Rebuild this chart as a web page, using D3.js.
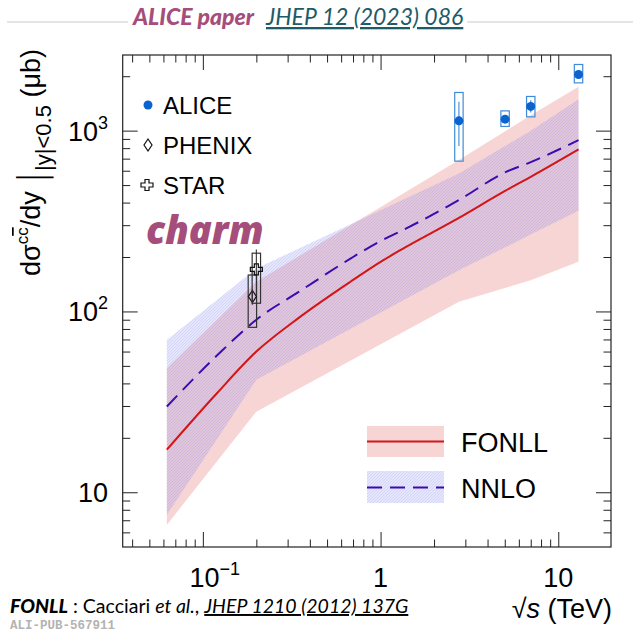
<!DOCTYPE html>
<html>
<head>
<meta charset="utf-8">
<script src="https://cdn.jsdelivr.net/npm/d3@7"></script>
<style>
  html, body { margin: 0; padding: 0; background: #fff; }
  svg { display: block; }
</style>
</head>
<body>
<div id="chart"></div>
<script>
// theory curves (central values, μb)
const sqrtsTheory = [0.0627, 0.12, 0.2, 0.354, 0.677, 1, 1.3, 2.76, 5.02, 7, 13];
const fonllCentral = [17.2, 35.3, 60, 93.6, 146, 188, 219, 329, 464, 555, 787];
const nnloCentral = [29.8, 57, 90, 130, 196, 245, 278, 413, 588, 670, 886];

// theory uncertainty bands
const bandSqrts = [0.0627, 0.2, 2.76, 7, 13];
const fonllLow = [6.6, 27.9, 113, 149, 188];
const fonllHigh = [48.5, 146, 687, 1218, 1746];
const nnloLow = [7.5, 41.9, 169, 266, 360];
const nnloHigh = [69.6, 173, 580, 1000, 1493];

// measurements
const aliceSqrts = [2.76, 5.02, 7, 13];
const aliceValue = [1133, 1157, 1361, 2045];
const aliceStatLow = [823, 1120, 1260, 1995];
const aliceStatHigh = [1443, 1195, 1474, 2095];
const aliceSystLow = [678, 1055, 1192, 1837];
const aliceSystHigh = [1626, 1286, 1545, 2322];

const phenixSqrts = [0.19];
const phenixValue = [121];
const phenixStatLow = [109];
const phenixStatHigh = [133];
const phenixSystLow = [81.7];
const phenixSystHigh = [159];

const starSqrts = [0.2];
const starValue = [171];
const starStatLow = [122];
const starStatHigh = [220];
const starSystLow = [111];
const starSystHigh = [210];

// axis ticks
const xMajorTicks = [0.1, 1, 10];
const xMinorTicks = [0.04, 0.05, 0.06, 0.07, 0.08, 0.09, 0.2, 0.3, 0.4, 0.5, 0.6, 0.7, 0.8, 0.9, 2, 3, 4, 5, 6, 7, 8, 9];
const xTickLabels = [["10", "−1"], ["1", ""], ["10", ""]];
const yMajorTicks = [10, 100, 1000];
const yMinorTicks = [6, 7, 8, 9, 20, 30, 40, 50, 60, 70, 80, 90, 200, 300, 400, 500, 600, 700, 800, 900, 2000];
const yTickLabels = [["10", ""], ["10", "2"], ["10", "3"]];

const width = 635;
const height = 633;
const margin = { top: 55, right: 24, bottom: 86, left: 122.7 };
const helv = "'Liberation Sans', Arial, sans-serif";
const fonllColor = "#d41515";
const nnloColor = "#3a0cae";
const aliceColor = "#0a63cf";
const aliceBoxColor = "#3f8bd9";
const magenta = "#a54d7b";

const svg = d3.select("#chart").append("svg").attr("width", width).attr("height", height);

const x = d3.scaleLog().domain([0.0354, 19.8]).range([margin.left, width - margin.right]);
const y = d3.scaleLog().domain([4.98, 2620]).range([height - margin.bottom, margin.top]);

const defs = svg.append("defs");
const hatch = defs.append("pattern")
  .attr("id", "hatch")
  .attr("patternUnits", "userSpaceOnUse")
  .attr("width", 3)
  .attr("height", 3);
hatch.append("rect").attr("width", 3).attr("height", 3).attr("fill", "#8a8cf0").attr("opacity", 0.22);
hatch.append("path").attr("d", "M-1,1 L1,-1 M0,3 L3,0 M2,4 L4,2").attr("stroke", "#6f72e4").attr("stroke-width", 0.5).attr("opacity", 0.3);

const clip = defs.append("clipPath").attr("id", "plot-clip");
clip.append("rect")
  .attr("x", margin.left).attr("y", margin.top)
  .attr("width", width - margin.left - margin.right)
  .attr("height", height - margin.top - margin.bottom);

// header
svg.append("line").attr("x1", 7).attr("x2", 633).attr("y1", 22).attr("y2", 22).attr("stroke", "#c9c9c9").attr("stroke-width", 1);
const header = svg.append("text").attr("x", 133).attr("y", 25).attr("font-family", "Lato, 'Open Sans', sans-serif").attr("font-size", 23);
header.append("tspan").attr("font-weight", 900).attr("font-style", "italic").attr("fill", magenta).text("ALICE paper");
header.append("tspan").attr("dx", 12).attr("font-style", "italic").attr("fill", "#1d5b67").attr("text-decoration", "underline").text("JHEP 12 (2023) 086");
{
  const bb = header.node().getBBox();
  svg.insert("rect", "text").attr("x", bb.x - 4).attr("y", 18).attr("width", bb.width + 8).attr("height", 8).attr("fill", "#fff");
}

const plot = svg.append("g").attr("clip-path", "url(#plot-clip)");

function bandArea(lows, highs) {
  const pts = bandSqrts.map((s, i) => ({ s, lo: lows[i], hi: highs[i] }));
  return d3.area().x((d) => x(d.s)).y0((d) => y(d.lo)).y1((d) => y(d.hi))(pts);
}

plot.append("path").attr("d", bandArea(fonllLow, fonllHigh)).attr("fill", "#f8d5d5");
plot.append("path").attr("d", bandArea(nnloLow, nnloHigh)).attr("fill", "url(#hatch)");

const curve = d3.line().curve(d3.curveMonotoneX).x((d) => x(d.s)).y((d) => y(d.v));
plot.append("path")
  .attr("d", curve(sqrtsTheory.map((s, i) => ({ s, v: fonllCentral[i] }))))
  .attr("fill", "none").attr("stroke", fonllColor).attr("stroke-width", 2);
plot.append("path")
  .attr("d", curve(sqrtsTheory.map((s, i) => ({ s, v: nnloCentral[i] }))))
  .attr("fill", "none").attr("stroke", nnloColor).attr("stroke-width", 2).attr("stroke-dasharray", "15,8");

// data points
const diamondPath = "M0,-6 L4,0 L0,6 L-4,0 Z";
const crossPath = "M-2,-5.5 L2,-5.5 L2,-2 L6,-2 L6,2 L2,2 L2,5.5 L-2,5.5 L-2,2 L-6,2 L-6,-2 L-2,-2 Z";

function drawSet(sqrts, values, statLo, statHi, systLo, systHi, color, boxColor, marker) {
  const rows = sqrts.map((s, i) => ({ s, v: values[i], sl: statLo[i], sh: statHi[i], yl: systLo[i], yh: systHi[i] }));
  const g = plot.append("g");
  g.selectAll("rect.syst").data(rows).join("rect")
    .attr("x", (d) => x(d.s) - 4.2).attr("width", 8.4)
    .attr("y", (d) => y(d.yh)).attr("height", (d) => y(d.yl) - y(d.yh))
    .attr("fill", "none").attr("stroke", boxColor).attr("stroke-width", 1.2);
  g.selectAll("line.stat").data(rows).join("line")
    .attr("x1", (d) => x(d.s)).attr("x2", (d) => x(d.s))
    .attr("y1", (d) => y(d.sh)).attr("y2", (d) => y(d.sl))
    .attr("stroke", boxColor).attr("stroke-width", 1.1);
  if (marker === "circle") {
    g.selectAll("circle").data(rows).join("circle")
      .attr("cx", (d) => x(d.s)).attr("cy", (d) => y(d.v)).attr("r", 4.5).attr("fill", color);
  } else {
    g.selectAll("path").data(rows).join("path")
      .attr("transform", (d) => `translate(${x(d.s)},${y(d.v)})`)
      .attr("d", marker).attr("fill", "none").attr("stroke", color).attr("stroke-width", 1.2);
  }
}
drawSet(phenixSqrts, phenixValue, phenixStatLow, phenixStatHigh, phenixSystLow, phenixSystHigh, "#111", "#333", diamondPath);
drawSet(starSqrts, starValue, starStatLow, starStatHigh, starSystLow, starSystHigh, "#111", "#333", crossPath);
drawSet(aliceSqrts, aliceValue, aliceStatLow, aliceStatHigh, aliceSystLow, aliceSystHigh, aliceColor, aliceBoxColor, "circle");

// frame and ticks (ROOT style, inward on all sides)
const axisStroke = (g) => g.call((a) => a.select(".domain").remove()).call((a) => a.selectAll("line").attr("stroke", "#222").attr("stroke-width", 1));
const bottomY = height - margin.bottom;
const rightX = width - margin.right;
svg.append("g").attr("transform", `translate(0,${bottomY})`).call(d3.axisBottom(x).tickValues(xMajorTicks).tickSize(-15).tickFormat("")).call(axisStroke);
svg.append("g").attr("transform", `translate(0,${bottomY})`).call(d3.axisBottom(x).tickValues(xMinorTicks).tickSize(-7.5).tickFormat("")).call(axisStroke);
svg.append("g").attr("transform", `translate(0,${margin.top})`).call(d3.axisTop(x).tickValues(xMajorTicks).tickSize(-15).tickFormat("")).call(axisStroke);
svg.append("g").attr("transform", `translate(0,${margin.top})`).call(d3.axisTop(x).tickValues(xMinorTicks).tickSize(-7.5).tickFormat("")).call(axisStroke);
svg.append("g").attr("transform", `translate(${margin.left},0)`).call(d3.axisLeft(y).tickValues(yMajorTicks).tickSize(-15).tickFormat("")).call(axisStroke);
svg.append("g").attr("transform", `translate(${margin.left},0)`).call(d3.axisLeft(y).tickValues(yMinorTicks).tickSize(-7.5).tickFormat("")).call(axisStroke);
svg.append("g").attr("transform", `translate(${rightX},0)`).call(d3.axisRight(y).tickValues(yMajorTicks).tickSize(-15).tickFormat("")).call(axisStroke);
svg.append("g").attr("transform", `translate(${rightX},0)`).call(d3.axisRight(y).tickValues(yMinorTicks).tickSize(-7.5).tickFormat("")).call(axisStroke);
svg.append("rect")
  .attr("x", margin.left).attr("y", margin.top)
  .attr("width", rightX - margin.left).attr("height", bottomY - margin.top)
  .attr("fill", "none").attr("stroke", "#222").attr("stroke-width", 1.2);

// tick labels
function powerLabel(sel, [base, exp]) {
  sel.append("tspan").text(base);
  if (exp) sel.append("tspan").attr("font-size", 18).attr("dy", -12).text(exp);
}
xMajorTicks.forEach((v, i) => {
  const t = svg.append("text").attr("x", x(v)).attr("y", 587).attr("text-anchor", "middle")
    .attr("font-family", helv).attr("font-size", 27).attr("fill", "#000");
  powerLabel(t, xTickLabels[i]);
  if (xTickLabels[i][1]) t.attr("dx", 12);
});
yMajorTicks.forEach((v, i) => {
  const t = svg.append("text").attr("x", 108).attr("y", y(v) + 10).attr("text-anchor", "end")
    .attr("font-family", helv).attr("font-size", 27).attr("fill", "#000");
  powerLabel(t, yTickLabels[i]);
});

// axis titles
const xTitle = svg.append("text").attr("x", 612).attr("y", 618).attr("text-anchor", "end")
  .attr("font-family", helv).attr("font-size", 27).attr("fill", "#000");
xTitle.append("tspan").text("√");
xTitle.append("tspan").attr("font-style", "italic").text("s");
xTitle.append("tspan").text(" (TeV)");

const yTitle = svg.append("text")
  .attr("transform", "translate(40,276) rotate(-90)")
  .attr("font-family", helv).attr("font-size", 27).attr("fill", "#000");
yTitle.append("tspan").text("dσ");
yTitle.append("tspan").attr("font-size", 17).attr("dy", -12).text("c");
yTitle.append("tspan").attr("font-size", 17).attr("text-decoration", "overline").text("c");
yTitle.append("tspan").attr("dy", 12).text("/dy ");
yTitle.append("tspan").attr("font-family", "'DejaVu Sans', sans-serif").attr("font-weight", 200).attr("font-size", 38).attr("dy", 4).text("|");
yTitle.append("tspan").attr("font-size", 22).attr("dy", 7).text("|y|<0.5");
yTitle.append("tspan").attr("dy", -11).text(" (μb)");

// legends
const legendFont = { family: helv, size: 24 };
svg.append("circle").attr("cx", 148).attr("cy", 105).attr("r", 4.5).attr("fill", aliceColor);
svg.append("path").attr("transform", "translate(148,145)").attr("d", diamondPath).attr("fill", "none").attr("stroke", "#111").attr("stroke-width", 1.2);
svg.append("path").attr("transform", "translate(147,185)").attr("d", crossPath).attr("fill", "none").attr("stroke", "#111").attr("stroke-width", 1.2);
[["ALICE", 113.5], ["PHENIX", 153.5], ["STAR", 193.5]].forEach(([label, yy]) => {
  svg.append("text").attr("x", 163).attr("y", yy).attr("font-family", legendFont.family).attr("font-size", legendFont.size).attr("fill", "#000").text(label);
});
svg.append("text").attr("x", 146).attr("y", 244).attr("font-family", "'Open Sans', Lato, sans-serif")
  .attr("font-weight", 800).attr("font-style", "italic").attr("font-size", 38).attr("fill", magenta).text("charm");

svg.append("rect").attr("x", 367).attr("y", 426).attr("width", 77).attr("height", 31).attr("fill", "#f8d5d5");
svg.append("line").attr("x1", 367).attr("x2", 444).attr("y1", 441.5).attr("y2", 441.5).attr("stroke", fonllColor).attr("stroke-width", 2);
svg.append("rect").attr("x", 367).attr("y", 471).attr("width", 77).attr("height", 32).attr("fill", "url(#hatch)");
svg.append("line").attr("x1", 367).attr("x2", 444).attr("y1", 487.5).attr("y2", 487.5).attr("stroke", nnloColor).attr("stroke-width", 2).attr("stroke-dasharray", "15,8");
svg.append("text").attr("x", 461).attr("y", 452).attr("font-family", helv).attr("font-size", 27).attr("fill", "#000").text("FONLL");
svg.append("text").attr("x", 461).attr("y", 497.5).attr("font-family", helv).attr("font-size", 27).attr("fill", "#000").text("NNLO");

// footer
const foot = svg.append("text").attr("x", 10).attr("y", 613).attr("font-family", "Lato, 'Open Sans', sans-serif").attr("font-size", 19.5).attr("fill", "#000");
foot.append("tspan").attr("font-weight", 900).attr("font-style", "italic").text("FONLL");
foot.append("tspan").text(" : Cacciari ");
foot.append("tspan").attr("font-style", "italic").text("et al.");
foot.append("tspan").text(", ");
foot.append("tspan").attr("font-style", "italic").attr("text-decoration", "underline").text("JHEP 1210 (2012) 137G");
svg.append("text").attr("x", 10).attr("y", 629).attr("font-family", "'Liberation Mono', monospace").attr("font-weight", 700)
  .attr("font-size", 12.5).attr("fill", "#b3b3b3").text("ALI-PUB-567911");
</script>
</body>
</html>
